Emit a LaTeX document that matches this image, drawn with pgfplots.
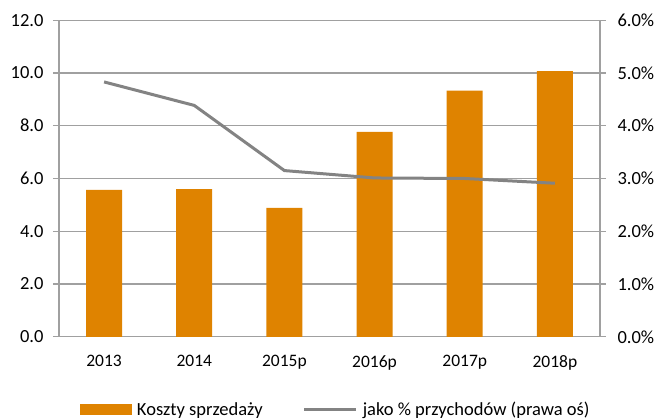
\documentclass[border=0pt]{standalone}
\usepackage{pgfplots}
\pgfplotsset{compat=1.18}
\usepackage{fontspec}
\setmainfont{Carlito}
\definecolor{barc}{HTML}{DF8300}
\definecolor{linec}{HTML}{838383}
\definecolor{gridc}{HTML}{A0A0A0}
\pgfplotsset{
  barlegend/.style={legend image code/.code={\fill[barc] (0pt,-5.5pt) rectangle (52pt,5.5pt);}},
  linelegend/.style={legend image code/.code={\draw[linec, line width=3pt] (0pt,0pt) -- (52pt,0pt);}},
}
\begin{document}
\begin{tikzpicture}
\path[use as bounding box] (0pt,0pt) rectangle (657pt,419pt);
\pgfplotsset{
  common/.style={
    at={(59pt,82.2pt)}, anchor=south west,
    scale only axis, width=541pt, height=316.6pt,
    xmin=-0.5, xmax=5.5,
    tick align=outside,
    major tick length=6pt,
    every tick/.style={gridc, line width=1.2pt},
    axis line style={gridc, line width=1.4pt},
    yticklabel style={font=\fontsize{18.5}{22}\selectfont, text=black},
    xticklabel style={font=\fontsize{17.5}{21}\selectfont, text=black},
    /pgf/number format/assume math mode=true,
  }
}
\begin{axis}[common,
  ymin=0, ymax=12,
  axis x line*=bottom, axis y line*=left,
  ytick={0,2,...,12},
  yticklabel={\pgfmathprintnumber[fixed,fixed zerofill,precision=1]{\tick}},
  ymajorgrids, grid style={gridc, line width=1.3pt},
  xtick={0,...,5},
  xticklabels={2013,2014,2015p,2016p,2017p,2018p},
  x tick style={draw=none},
  extra x ticks={-0.5,0.5,...,5.5},
  extra x tick labels={},
  extra x tick style={tick style={gridc, line width=1.2pt}, major tick length=6pt},
  xticklabel style={yshift=-9pt},
  yticklabel style={xshift=-6pt},
  legend style={at={(0.0388,-0.2296)}, anchor=west, draw=none, fill=none,
    inner sep=0pt, outer sep=0pt,
    legend columns=2, font=\fontsize{18.5}{22}\selectfont,
    nodes={inner sep=0pt},
    /tikz/every odd column/.append style={column sep=5pt},
    /tikz/every even column/.append style={column sep=40pt}},
]
\addplot[ybar, bar width=36pt, fill=barc, draw=none, barlegend]
  coordinates {(0,5.57)(1,5.60)(2,4.89)(3,7.77)(4,9.33)(5,10.07)};
\addlegendentry{Koszty sprzedaży}
\addlegendimage{linec, line width=3pt, linelegend}
\addlegendentry{jako \% przychodów (prawa oś)}
\end{axis}
\begin{axis}[common,
  ymin=0, ymax=6,
  axis x line=none, axis y line*=right,
  ytick={0,1,...,6},
  yticklabel={\pgfmathprintnumber[fixed,fixed zerofill,precision=1]{\tick}\%},
  yticklabel style={xshift=8pt},
]
\addplot[linec, line width=3pt, mark=none]
  coordinates {(0,4.83)(1,4.385)(2,3.15)(3,3.01)(4,3.00)(5,2.91)};
\end{axis}
\end{tikzpicture}
\end{document}
